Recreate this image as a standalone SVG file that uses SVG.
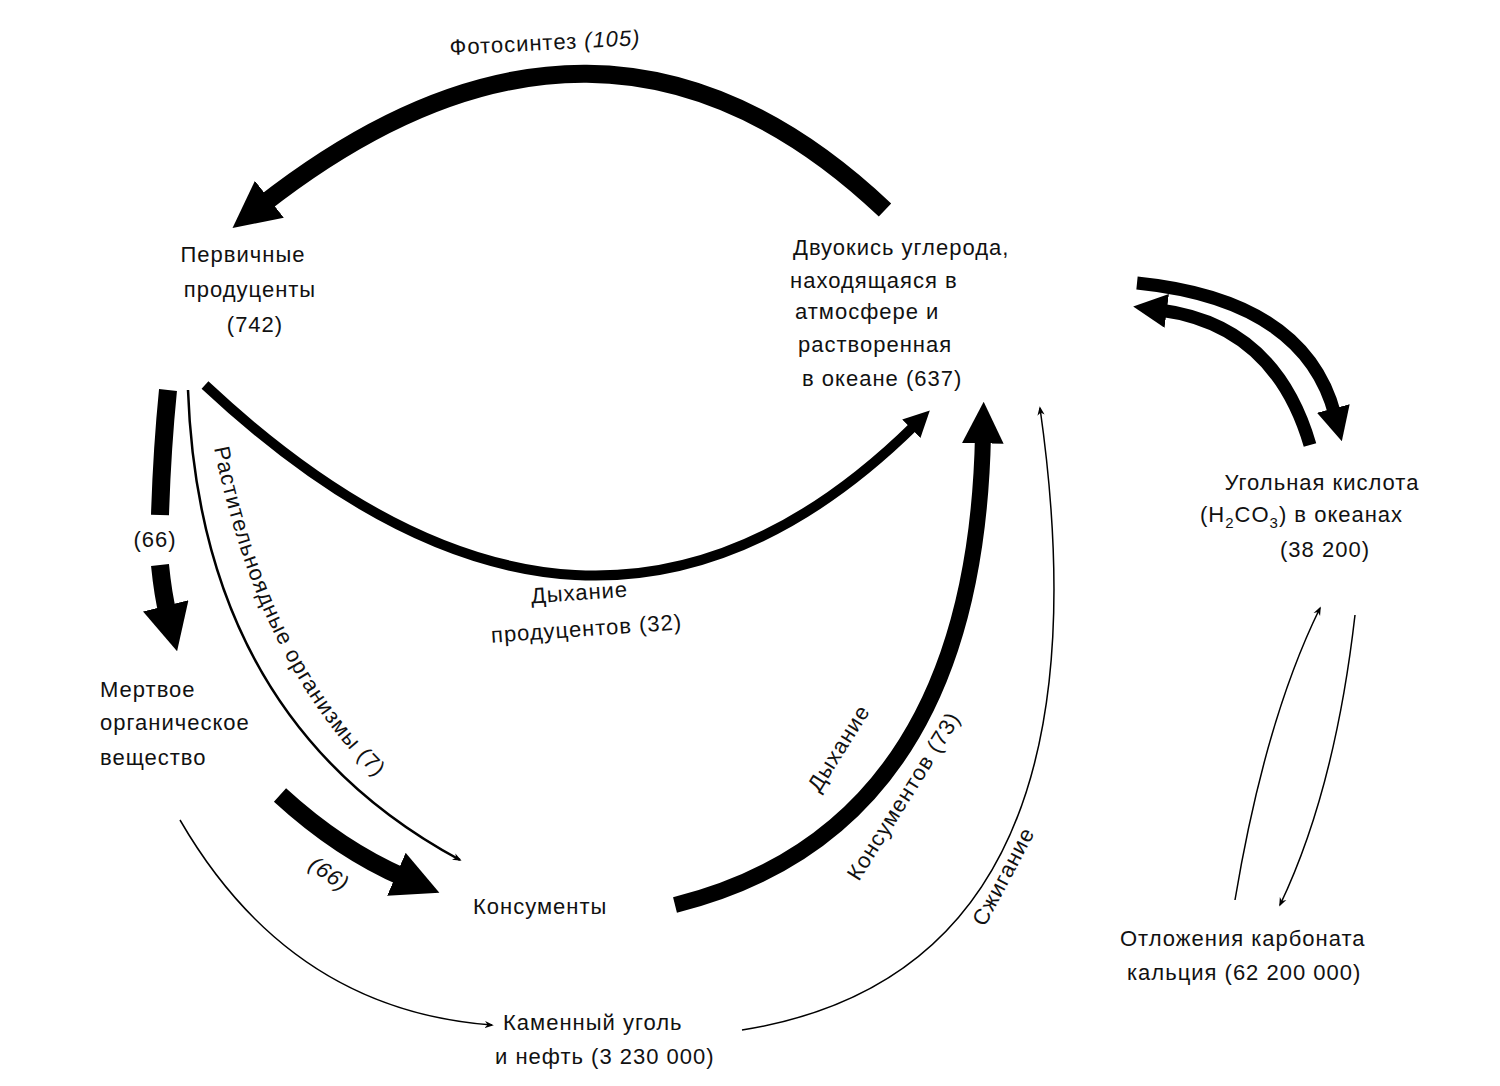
<svg xmlns="http://www.w3.org/2000/svg" width="1500" height="1086" viewBox="0 0 1500 1086">
<style>
text{font-family:"Liberation Sans",Arial,sans-serif;font-size:22px;fill:#111;letter-spacing:1px}
.c{fill:none;stroke:#000}
</style>
<defs>
<marker id="h" viewBox="0 0 10 10" refX="2" refY="5" markerWidth="2.6" markerHeight="2.6" orient="auto" markerUnits="strokeWidth"><path d="M0,0L10,5L0,10z"/></marker>
<marker id="t" viewBox="0 0 10 10" refX="8" refY="5" markerWidth="9" markerHeight="9" orient="auto" markerUnits="userSpaceOnUse"><path d="M0,1L10,5L0,9L3,5z"/></marker>
<path id="p1" d="M214,448 Q272,735 464,842"/>
</defs>
<rect width="1500" height="1086" fill="#fff"/>
<g id="connectors">
<path class="c" stroke-width="18" marker-end="url(#h)" d="M885,210 Q600,-60 262,205"/>
<path class="c" stroke-width="10" marker-end="url(#h)" d="M205,385 Q590,745 915,425"/>
<path class="c" stroke-width="18" d="M168,390 Q162,450 160,515"/>
<path class="c" stroke-width="18" marker-end="url(#h)" d="M160,565 Q163,595 168,615"/>
<path class="c" stroke-width="2.5" marker-end="url(#t)" d="M188,390 Q200,720 460,860"/>
<path class="c" stroke-width="18" marker-end="url(#h)" d="M280,795 Q340,850 405,878"/>
<path class="c" stroke-width="16" marker-end="url(#h)" d="M675,905 Q975,830 983,435"/>
<path class="c" stroke-width="1.5" marker-end="url(#t)" d="M180,820 Q290,1010 492,1025"/>
<path class="c" stroke-width="1.5" marker-end="url(#t)" d="M742,1030 Q1120,970 1040,408"/>
<path class="c" stroke-width="13" marker-end="url(#h)" d="M1137,283 Q1305,300 1335,415"/>
<path class="c" stroke-width="13" marker-end="url(#h)" d="M1310,445 Q1275,325 1160,310"/>
<path class="c" stroke-width="1.5" marker-end="url(#t)" d="M1235,900 Q1265,720 1320,608"/>
<path class="c" stroke-width="1.5" marker-end="url(#t)" d="M1355,615 Q1335,790 1280,905"/>
</g>
<g id="n-producers"><text x="243" y="262" text-anchor="middle">Первичные</text><text x="250" y="297" text-anchor="middle">продуценты</text><text x="255" y="332" text-anchor="middle">(742)</text></g>
<g id="n-co2"><text x="793" y="255">Двуокись углерода,</text><text x="790" y="288">находящаяся в</text><text x="795" y="319">атмосфере и</text><text x="798" y="352">растворенная</text><text x="802" y="386">в океане (637)</text></g>
<g id="n-acid"><text x="1322" y="490" text-anchor="middle">Угольная кислота</text><text x="1200" y="522">(H<tspan font-size="15" dy="6">2</tspan><tspan dy="-6">CO</tspan><tspan font-size="15" dy="6">3</tspan><tspan dy="-6">) в океанах</tspan></text><text x="1325" y="557" text-anchor="middle">(38 200)</text></g>
<g id="n-dead"><text x="100" y="697">Мертвое</text><text x="100" y="730" letter-spacing="0">органическое</text><text x="100" y="765">вещество</text></g>
<g id="n-cons"><text x="473" y="914">Консументы</text></g>
<g id="n-coal"><text x="503" y="1030">Каменный уголь</text><text x="495" y="1064">и нефть (3 230 000)</text></g>
<g id="n-carb"><text x="1120" y="946">Отложения карбоната</text><text x="1127" y="980">кальция (62 200 000)</text></g>
<g id="labels">
<text x="450" y="55" transform="rotate(-3 450 55)">Фотосинтез <tspan font-style="italic">(105)</tspan></text>
<text x="155" y="547" text-anchor="middle">(66)</text>
<text x="580" y="600" text-anchor="middle" transform="rotate(-4 580 600)">Дыхание</text>
<text x="587" y="636" text-anchor="middle" transform="rotate(-4 587 636)">продуцентов (32)</text>
<text><textPath href="#p1">Растительноядные  организмы (7)</textPath></text>
<text x="325" y="880" text-anchor="middle" font-style="italic" transform="rotate(35 325 880)">(66)</text>
<text x="845" y="752" text-anchor="middle" transform="rotate(-58 845 752)">Дыхание</text>
<text x="910" y="800" text-anchor="middle" transform="rotate(-58 910 800)">Консументов (73)</text>
<text x="1010" y="880" text-anchor="middle" transform="rotate(-62 1010 880)">Сжигание</text>
</g>
</svg>
